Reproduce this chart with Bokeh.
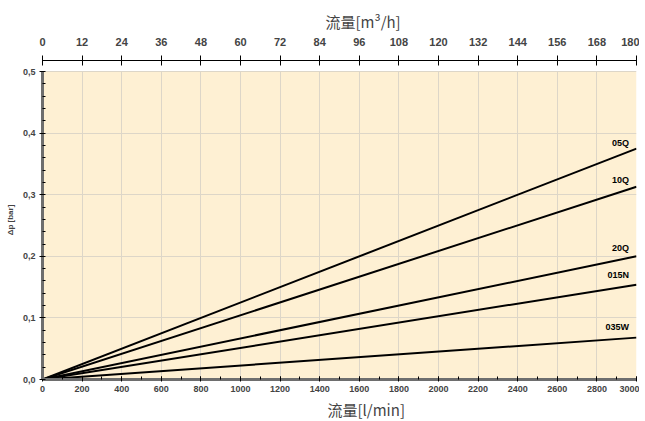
from bokeh.plotting import figure
from bokeh.models import (LinearAxis, Range1d, SingleIntervalTicker, BoxAnnotation,
                          CustomJSTickFormatter, ColumnDataSource, Title)
from bokeh.core.properties import value
from bokeh.embed import file_html
from bokeh.resources import INLINE

# ---- data ----
flow_lmin = [0, 3000]                      # l/min
series_names = ["05Q", "10Q", "20Q", "015N", "035W"]
dp_end = [0.375, 0.313, 0.200, 0.154, 0.068]  # bar at 3000 l/min
flow_m3h_max = 180                          # 3000 l/min = 180 m3/h

BG = "#FEF0D3"
GRID = "#DDD6C8"
FONT = "Liberation Sans"
CJK = "Noto Sans CJK SC"

p = figure(frame_width=594, frame_height=319, output_backend="svg", toolbar_location=None,
           x_range=Range1d(0, 3000), y_range=Range1d(0, 0.518),
           min_border_left=42, min_border_right=3, min_border_top=60, min_border_bottom=36,
           x_axis_location="below", y_axis_location="left")
p.outline_line_color = None
p.background_fill_color = "white"
p.border_fill_color = "white"

p.add_layout(BoxAnnotation(bottom=0, top=0.5, fill_color=BG, fill_alpha=1.0,
                           line_color=None, level="image"))

# ---- axes ----
xa = p.xaxis[0]
xa.ticker = SingleIntervalTicker(interval=200, num_minor_ticks=2)
xa.axis_line_color = "#6E6E6E"
xa.axis_line_width = 3
xa.major_tick_line_color = "black"
xa.major_tick_in = 3
xa.major_tick_out = 2
xa.minor_tick_line_color = "black"
xa.minor_tick_in = 3
xa.minor_tick_out = 0
xa.major_label_text_font = FONT
xa.major_label_text_font_style = "bold"
xa.major_label_text_font_size = "9px"
xa.major_label_standoff = 4

ya = p.yaxis[0]
ya.bounds = (0, 0.5)
ya.ticker = SingleIntervalTicker(interval=0.1, num_minor_ticks=5)
ya.formatter = CustomJSTickFormatter(code="return tick.toFixed(1).replace('.', ',');")
ya.axis_line_color = "#6E6E6E"
ya.axis_line_width = 3
ya.major_tick_line_color = "black"
ya.major_tick_in = 2
ya.major_tick_out = 3
ya.minor_tick_line_color = "black"
ya.minor_tick_in = 3
ya.minor_tick_out = 0
ya.major_label_text_font = FONT
ya.major_label_text_font_style = "bold"
ya.major_label_text_font_size = "9px"
ya.major_label_standoff = 4
ya.axis_label = "Δp [bar]"
ya.axis_label_text_font = FONT
ya.axis_label_text_font_style = "bold"
ya.axis_label_text_font_size = "8px"
ya.axis_label_standoff = 5

p.extra_x_ranges = {"m3h": Range1d(0, flow_m3h_max)}
ta = LinearAxis(x_range_name="m3h",
                ticker=SingleIntervalTicker(interval=12, num_minor_ticks=0))
ta.axis_line_color = "black"
ta.axis_line_width = 1
ta.major_tick_line_color = "black"
ta.major_tick_in = 5
ta.major_tick_out = 5
ta.minor_tick_line_color = None
ta.major_label_text_font = FONT
ta.major_label_text_font_style = "bold"
ta.major_label_text_font_size = "11px"
ta.major_label_standoff = 10
p.add_layout(ta, "above")

p.add_layout(Title(text="流量[m³/h]", text_font=CJK, text_font_style="normal",
                   text_font_size="15px", align="left", offset=283, standoff=6), "above")
p.add_layout(Title(text="流量[l/min]", text_font=CJK, text_font_style="normal",
                   text_font_size="15px", align="left", offset=285, standoff=4), "below")

# ---- grid ----
p.xgrid.ticker = xa.ticker
p.xgrid.grid_line_color = GRID
p.xgrid.grid_line_width = 1
p.xgrid.cross_bounds = (0, 0.5)
p.ygrid.grid_line_color = GRID
p.ygrid.grid_line_width = 1

# ---- lines ----
for name, v in zip(series_names, dp_end):
    p.line(flow_lmin, [0, v], line_color="black", line_width=2)

lx = 2962
lab_src = ColumnDataSource(dict(
    x=[lx] * len(series_names),
    y=[v * 2920 / 3000 + 0.019 for v in dp_end],
    t=series_names))
p.text(x="x", y="y", text="t", source=lab_src, text_align="right",
       text_baseline="middle", text_font=value(FONT), text_font_style="bold",
       text_font_size="9px", text_color="black")

open("out.html", "w").write(file_html(p, INLINE))
